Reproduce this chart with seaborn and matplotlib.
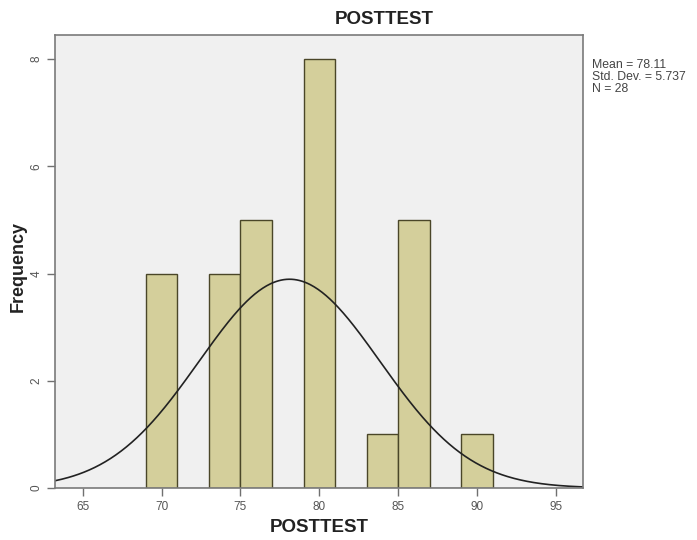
import numpy as np
import pandas as pd
import matplotlib
matplotlib.use("Agg")
import matplotlib.pyplot as plt
import seaborn as sns

# ---- data ----
bin_edges = [69, 71, 73, 75, 77, 79, 81, 83, 85, 87, 89, 91]
counts = [4, 0, 4, 5, 0, 8, 0, 1, 5, 0, 1]
mean_val = 78.11
std_val = 5.737
n_val = 28
x_ticks = [65, 70, 75, 80, 85, 90, 95]
y_ticks = [0, 2, 4, 6, 8]
title = "POSTTEST"
x_label = "POSTTEST"
y_label = "Frequency"

sns.set_style("white")
plt.rcParams['font.family'] = ['Liberation Sans', 'DejaVu Sans']

W, H = 697, 540
fig = plt.figure(figsize=(W / 100, H / 100), dpi=100)
fig.patch.set_facecolor("white")
L, R, T, B = 55, 582.7, 35, 488
ax = fig.add_axes([L / W, 1 - B / H, (R - L) / W, (B - T) / H])
ax.set_facecolor("#f0f0f0")

centers = [(a + b) / 2 for a, b in zip(bin_edges[:-1], bin_edges[1:])]
df = pd.DataFrame({"value": centers, "count": counts})
sns.histplot(data=df, x="value", weights="count", bins=bin_edges, ax=ax,
             color="#d4cf9b", alpha=1, edgecolor="#4a4628", linewidth=1.0)

binw = bin_edges[1] - bin_edges[0]
xs = np.linspace(63.24, 96.7, 400)
ys = n_val * binw / (std_val * np.sqrt(2 * np.pi)) * np.exp(-0.5 * ((xs - mean_val) / std_val) ** 2)
sns.lineplot(x=xs, y=ys, ax=ax, color="#222222", linewidth=1.2)

ax.set_xlim(63.24, 96.7)
ax.set_ylim(0, 8.45)
ax.set_xticks(x_ticks)
ax.set_yticks(y_ticks)
ax.set_xticklabels([str(v) for v in x_ticks], fontsize=8.5, color="#555555")
ax.set_yticklabels([str(v) for v in y_ticks], fontsize=8.5, color="#555555",
                   rotation=90, va="center")
ax.tick_params(axis="both", direction="out", length=6, width=1, color="#707070",
               bottom=True, left=True, pad=3)
for s in ax.spines.values():
    s.set_visible(True)
    s.set_color("#7a7a7a")
    s.set_linewidth(1.2)
ax.set_xlabel("")
ax.set_ylabel("")

fig.text(384.5 / W, 1 - 20 / H, title, ha="center", va="center",
         fontsize=13.5, fontweight="bold", color="#222222")
fig.text((L + R) / 2 / W, 1 - 528 / H, x_label, ha="center", va="center",
         fontsize=13.5, fontweight="bold", color="#222222")
fig.text(18 / W, 1 - 266 / H, y_label, ha="center", va="center", rotation=90,
         fontsize=13, fontweight="bold", color="#222222")
fig.text(592 / W, 1 - 59 / H,
         f"Mean = {mean_val:.2f}\nStd. Dev. = {std_val:.3f}\nN = {n_val}",
         ha="left", va="top", fontsize=8.8, color="#444444", linespacing=1.0)

fig.savefig("out.png", dpi=100)
